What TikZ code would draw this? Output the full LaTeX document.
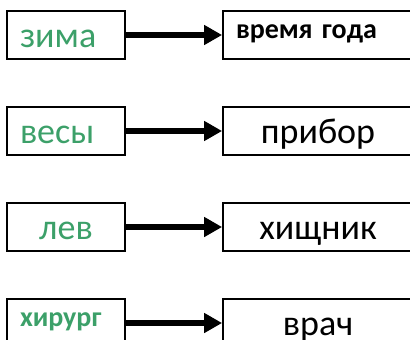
\documentclass[tikz,border=0pt]{standalone}
\usepackage{fontspec}
\setmainfont{Carlito}
\usetikzlibrary{arrows.meta}
\definecolor{wordgreen}{RGB}{60,160,105}

\begin{document}
\begin{tikzpicture}[x=1pt,y=-1pt,
    box/.style={draw,line width=1.8pt,minimum height=48pt,inner ysep=0pt},
    leftword/.style={box,text width=92pt,inner xsep=13pt,align=left,text=wordgreen,
      font=\fontsize{36}{40}\selectfont,text height=32pt,text depth=6.5pt},
    rightword/.style={box,text width=164pt,inner xsep=13pt,align=center,
      font=\fontsize{36}{40}\selectfont,text height=32pt,text depth=6.5pt},
    boldword/.style={font=\bfseries\fontsize{28}{32}\selectfont,text height=14pt,text depth=7pt},
    link/.style={line width=5.5pt,-{Triangle[length=18pt,width=19pt]}}]
  \clip (0,0) rectangle (410,340);

  \node[leftword] (zima) at (66,35) {зима};
  \node[rightword,boldword,align=left] (season) at (318,35) {время года};
  \draw[link] (zima) -- (season);

  \node[leftword] (vesy) at (66,131) {весы};
  \node[rightword] (pribor) at (318,131) {прибор};
  \draw[link] (vesy) -- (pribor);

  \node[leftword,align=center] (lev) at (66,227) {лев};
  \node[rightword] (hishnik) at (318,227) {хищник};
  \draw[link] (lev) -- (hishnik);

  \node[leftword,boldword] (hirurg) at (66,323) {хирург};
  \node[rightword] (vrach) at (318,323) {врач};
  \draw[link] (hirurg) -- (vrach);
\end{tikzpicture}
\end{document}
